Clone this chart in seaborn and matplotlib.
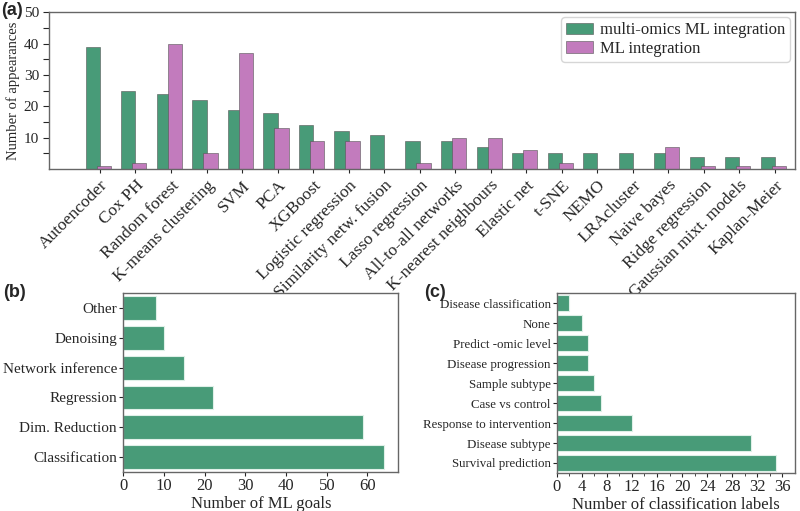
import numpy as np
import pandas as pd
import matplotlib.pyplot as plt
import seaborn as sns

# panel (a): methods found in the literature
methods = ["Autoencoder", "Cox PH", "Random forest", "K-means clustering", "SVM", "PCA",
           "XGBoost", "Logistic regression", "Similarity netw. fusion", "Lasso regression",
           "All-to-all networks", "K-nearest neighbours", "Elastic net", "t-SNE", "NEMO",
           "LRAcluster", "Naive bayes", "Ridge regression", "Gaussian mixt. models",
           "Kaplan-Meier"]
multi_omics = [39, 25, 24, 22, 19, 18, 14, 12, 11, 9, 9, 7, 5, 5, 5, 5, 5, 4, 4, 4]
ml_only = [1, 2, 40, 5, 37, 13, 9, 9, 0, 2, 10, 10, 6, 2, 0, 0, 7, 1, 1, 1]

# panel (b): ML goals
goals = ["Other", "Denoising", "Network inference", "Regression", "Dim. Reduction",
         "Classification"]
goal_counts = [8, 10, 15, 22, 59, 64]

# panel (c): classification labels
class_labels = ["Disease classification", "None", "Predict -omic level",
                "Disease progression", "Sample subtype", "Case vs control",
                "Response to intervention", "Disease subtype", "Survival prediction"]
class_counts = [2, 4, 5, 5, 6, 7, 12, 31, 35]

sns.set_style("ticks")
plt.rcParams['font.family'] = ['Liberation Serif', 'DejaVu Serif']
plt.rcParams['axes.edgecolor'] = '#666666'
plt.rcParams['axes.linewidth'] = 1.0
plt.rcParams['xtick.major.size'] = 3
plt.rcParams['ytick.major.size'] = 3
plt.rcParams['xtick.minor.size'] = 2
plt.rcParams['xtick.major.pad'] = 1.5
plt.rcParams['ytick.major.pad'] = 1.5

green = "#489b78"
pink = "#c27bbd"

fig = plt.figure(figsize=(8, 5.11), dpi=100)

# ---- (a)
ax1 = fig.add_axes([0.061, 0.669, 0.9325, 0.307])
df = pd.DataFrame({"method": methods,
                   "multi-omics ML integration": multi_omics,
                   "ML integration": ml_only})
df = df.melt(id_vars="method", var_name="source", value_name="count")
sns.barplot(data=df, x="method", y="count", hue="source", palette=[green, pink],
            saturation=1, edgecolor="#555555", linewidth=0.4, ax=ax1)
for p in ax1.containers[1]:
    p.set_x(p.get_x() - 0.09)
ax1.set_xlim(-1.44, 19.56)
ax1.set_ylim(0, 50)
ax1.set_yticks(range(5, 55, 5))
ax1.set_yticklabels(["" if v % 10 else str(v) for v in range(5, 55, 5)], fontsize=11)
ax1.tick_params(axis="y", length=4, pad=3)
ax1.set_xticks(range(len(methods)))
ax1.set_xticklabels(methods, rotation=45, ha="right", rotation_mode="anchor", fontsize=12.5)
ax1.tick_params(axis="x", pad=3)
ax1.set_xlabel("")
ax1.set_ylabel("Number of appearances", fontsize=10.5, labelpad=3)
sns.move_legend(ax1, "upper right", title=None, fontsize=12, frameon=True,
                borderaxespad=0.3, handlelength=1.6, handletextpad=0.4,
                labelspacing=0.15, borderpad=0.3)

# ---- (b)
ax2 = fig.add_axes([0.154, 0.0763, 0.344, 0.350])
sns.barplot(x=goal_counts, y=goals, orient="y", color=green, saturation=1,
            edgecolor="#dff0e8", linewidth=0.8, ax=ax2)
ax2.set_xlim(0, 67.6)
ax2.set_xticks(range(0, 61, 10))
ax2.tick_params(axis="x", labelsize=12)
ax2.tick_params(axis="y", labelsize=11)
ax2.set_xlabel("Number of ML goals", fontsize=12, labelpad=1)
ax2.set_ylabel("")

# ---- (c)
ax3 = fig.add_axes([0.696, 0.0744, 0.2975, 0.352])
sns.barplot(x=class_counts, y=class_labels, orient="y", color=green, saturation=1,
            edgecolor="#dff0e8", linewidth=0.8, ax=ax3)
ax3.set_xlim(0, 38)
ax3.set_xticks(range(0, 37, 4))
ax3.set_xticks(range(2, 38, 4), minor=True)
ax3.tick_params(axis="x", labelsize=12)
ax3.tick_params(axis="y", labelsize=9.3)
ax3.set_xlabel("Number of classification labels", fontsize=12, labelpad=1)
ax3.set_ylabel("")

for x, y, s in [(0.002, 0.98, "(a)"), (0.004, 0.428, "(b)"), (0.53, 0.428, "(c)")]:
    fig.text(x, y, s, fontsize=13, fontweight="bold", family="Liberation Sans",
             va="center")

fig.savefig("out.png", dpi=100)
